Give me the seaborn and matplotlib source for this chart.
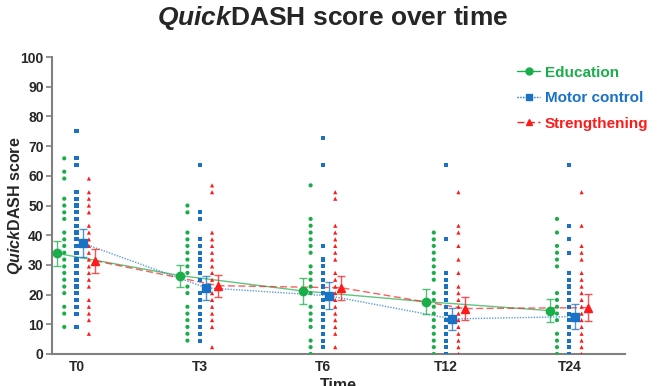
import numpy as np
import pandas as pd
import seaborn as sns
import matplotlib.pyplot as plt
from matplotlib.lines import Line2D

times = ["T0", "T3", "T6", "T12", "T24"]
groups = ["Education", "Motor control", "Strengthening"]

# individual QuickDASH scores (unique levels visible per column)
edu_scores = [
    [65.9, 61.4, 59.1, 52.3, 50.0, 47.7, 45.5, 40.9, 38.6, 36.4, 34.1, 31.8, 29.5, 27.3, 25.0, 22.7, 20.5, 15.9, 13.6, 9.1],
    [50.0, 47.7, 40.9, 38.6, 36.4, 34.1, 31.8, 29.5, 27.3, 22.7, 20.5, 15.9, 13.6, 11.4, 9.1, 6.8, 4.5],
    [56.8, 45.5, 43.2, 40.9, 38.6, 36.4, 34.1, 29.5, 27.3, 25.0, 22.7, 20.5, 15.9, 13.6, 11.4, 9.1, 4.5, 2.3, 0.0],
    [40.9, 38.6, 36.4, 34.1, 31.8, 29.5, 27.3, 25.0, 20.5, 18.2, 15.9, 13.6, 11.4, 9.1, 6.8, 4.5, 2.3, 0.0],
    [45.5, 40.9, 36.4, 34.1, 31.8, 29.5, 20.5, 18.2, 15.9, 13.6, 11.4, 6.8, 4.5, 2.3, 0.0],
]
motor_scores = [
    [75.0, 65.9, 63.6, 54.5, 52.3, 50.0, 47.7, 45.5, 43.2, 40.9, 38.6, 36.4, 34.1, 31.8, 29.5, 27.3, 25.0, 22.7, 20.5, 18.2, 15.9, 13.6, 9.1],
    [63.6, 47.7, 45.5, 38.6, 36.4, 34.1, 31.8, 29.5, 27.3, 25.0, 20.5, 18.2, 15.9, 13.6, 11.4, 9.1, 6.8, 4.5],
    [72.7, 63.6, 36.4, 31.8, 29.5, 27.3, 25.0, 22.7, 20.5, 18.2, 15.9, 13.6, 11.4, 9.1, 6.8, 4.5, 2.3],
    [63.6, 38.6, 27.3, 25.0, 22.7, 20.5, 18.2, 15.9, 13.6, 11.4, 9.1, 6.8, 4.5, 2.3, 0.0],
    [63.6, 43.2, 38.6, 34.1, 27.3, 25.0, 22.7, 20.5, 18.2, 15.9, 13.6, 11.4, 9.1, 6.8, 4.5, 2.3, 0.0],
]
strength_scores = [
    [59.1, 54.5, 52.3, 50.0, 47.7, 43.2, 40.9, 38.6, 36.4, 34.1, 31.8, 29.5, 27.3, 25.0, 22.7, 18.2, 15.9, 13.6, 11.4, 6.8],
    [56.8, 54.5, 40.9, 38.6, 36.4, 34.1, 31.8, 29.5, 27.3, 25.0, 20.5, 18.2, 15.9, 13.6, 11.4, 9.1, 2.3],
    [54.5, 52.3, 43.2, 40.9, 38.6, 36.4, 34.1, 31.8, 27.3, 25.0, 22.7, 20.5, 18.2, 15.9, 13.6, 11.4, 9.1, 6.8, 2.3],
    [54.5, 43.2, 40.9, 36.4, 31.8, 27.3, 22.7, 20.5, 18.2, 15.9, 13.6, 11.4, 9.1, 6.8, 4.5, 2.3, 0.0],
    [54.5, 43.2, 36.4, 34.1, 31.8, 27.3, 25.0, 22.7, 20.5, 18.2, 15.9, 13.6, 11.4, 9.1, 6.8, 4.5, 2.3, 0.0],
]

# group means and 95% CI half widths
edu_mean = [33.9, 26.4, 21.2, 17.6, 14.6]
edu_ci = [4.3, 3.7, 4.3, 4.3, 3.8]
motor_mean = [37.3, 22.3, 19.6, 11.8, 12.6]
motor_ci = [4.8, 4.1, 4.6, 3.8, 4.3]
strength_mean = [31.4, 23.0, 22.3, 15.3, 15.6]
strength_ci = [4.0, 3.7, 4.0, 3.9, 4.5]

colors = {"Education": "#1aae4a", "Motor control": "#1a72c4", "Strengthening": "#ff1a1a"}
markers = {"Education": "o", "Motor control": "s", "Strengthening": "^"}
lstyles = {"Education": "-", "Motor control": (0, (1, 1)), "Strengthening": (0, (5, 2.5))}
dot_off = {"Education": -0.10, "Motor control": 0.0, "Strengthening": 0.10}
mean_off = {"Education": -0.16, "Motor control": 0.05, "Strengthening": 0.15}

all_scores = {"Education": edu_scores, "Motor control": motor_scores, "Strengthening": strength_scores}
means = {"Education": (edu_mean, edu_ci), "Motor control": (motor_mean, motor_ci),
         "Strengthening": (strength_mean, strength_ci)}

rows = []
for g in groups:
    for i, vals in enumerate(all_scores[g]):
        for v in vals:
            rows.append({"group": g, "t": i, "x": i + dot_off[g], "score": v})
df = pd.DataFrame(rows)

sns.set_style("white")
plt.rcParams["font.family"] = ["Liberation Sans", "DejaVu Sans"]
plt.rcParams["mathtext.fontset"] = "custom"
plt.rcParams["mathtext.it"] = "Liberation Sans:italic:bold"
plt.rcParams["mathtext.rm"] = "Liberation Sans:bold"
plt.rcParams["mathtext.bf"] = "Liberation Sans:bold"

fig = plt.figure(figsize=(6.66, 3.86), dpi=100)
ax = fig.add_axes([0.078, 0.083, 0.86, 0.769])

sns.scatterplot(data=df, x="x", y="score", hue="group", style="group", palette=colors,
                markers=markers, s=9, linewidth=0, legend=False, ax=ax, zorder=3)

for g in groups:
    m, ci = means[g]
    xs = np.arange(len(times)) + mean_off[g]
    ax.plot(xs, m, color=colors[g], linestyle=lstyles[g], lw=1.0, alpha=0.7, zorder=2)
    ax.errorbar(xs, m, yerr=ci, fmt="none", ecolor=colors[g], elinewidth=1.0,
                capsize=3, capthick=1.0, alpha=0.75, zorder=4)
    ax.plot(xs, m, linestyle="none", marker=markers[g], color=colors[g], ms=6, zorder=5)

ax.set_xlim(-0.2, 4.45)
ax.set_ylim(0, 100)
ax.set_yticks(range(0, 101, 10))
ax.set_xticks(range(len(times)))
ax.set_xticklabels(times)
for lab in ax.get_xticklabels() + ax.get_yticklabels():
    lab.set_fontweight("bold")
    lab.set_fontsize(10)
ax.tick_params(axis="y", length=4, width=1.2, color="#808080", direction="out", left=True, pad=2)
ax.tick_params(axis="x", length=0, pad=4)
sns.despine(ax=ax)
for s in ["left", "bottom"]:
    ax.spines[s].set_color("#808080")
    ax.spines[s].set_linewidth(1.5)

ax.set_xlabel("Time", fontsize=11.5, fontweight="bold", labelpad=3)
ax.set_ylabel(r"$\mathit{Quick}$DASH score", fontsize=11.5, fontweight="bold")
ax.yaxis.set_label_coords(-0.047, 0.5)
fig.suptitle(r"$\mathit{Quick}$DASH score over time", fontsize=19, fontweight="bold", y=0.99)

handles = [Line2D([0], [0], color=colors[g], linestyle=lstyles[g], marker=markers[g], ms=5, lw=1)
           for g in groups]
leg = ax.legend(handles, groups, loc="upper right", bbox_to_anchor=(1.065, 1.017), frameon=False,
                prop={"weight": "bold", "size": 11}, handlelength=1.5, handletextpad=0.3,
                labelspacing=0.75)
for txt, g in zip(leg.get_texts(), groups):
    txt.set_color(colors[g])

fig.savefig("out.png", dpi=100)
